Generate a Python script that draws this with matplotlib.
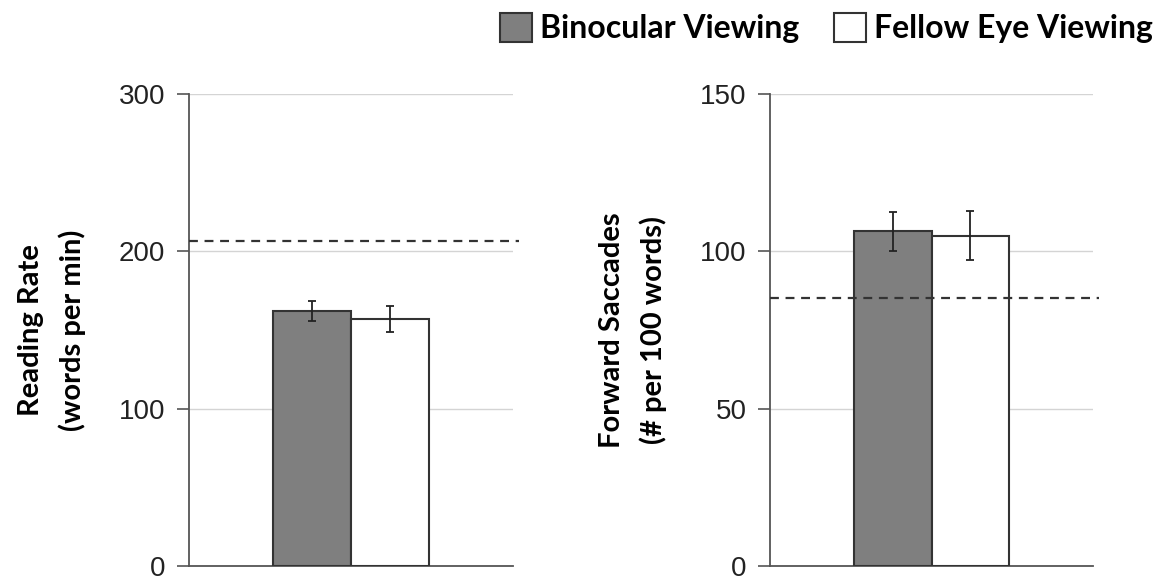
import matplotlib.pyplot as plt

plt.rcParams['font.family'] = ['Liberation Sans', 'DejaVu Sans']

# 数据
conditions = ['Binocular Viewing', 'Fellow Eye Viewing']
reading_rate = [162, 157]
reading_rate_err = [6.5, 8]
reading_rate_norm = 206.6
saccades = [106.4, 105.0]
saccades_err = [6.2, 7.8]
saccades_norm = 85.1

bar_colors = ['#7f7f7f', 'white']
edge = '#333333'
label_font = dict(family=['Lato', 'DejaVu Sans'], weight='bold', size=21)

fig = plt.figure(figsize=(11.68, 5.8), dpi=100)
ax1 = fig.add_axes([189 / 1168, 14 / 580, 324 / 1168, 472 / 580])
ax2 = fig.add_axes([770 / 1168, 14 / 580, 323 / 1168, 472 / 580])

panels = [
    (ax1, reading_rate, reading_rate_err, reading_rate_norm, 300, 100,
     'Reading Rate\n(words per min)'),
    (ax2, saccades, saccades_err, saccades_norm, 150, 50,
     'Forward Saccades\n(# per 100 words)'),
]

xpos = [-0.12, 0.12]
for ax, vals, errs, norm, ymax, step, ylabel in panels:
    for x, v, e, c, name in zip(xpos, vals, errs, bar_colors, conditions):
        ax.bar(x, v, width=0.24, color=c, edgecolor=edge, linewidth=1.5,
               label=name, zorder=3)
        ax.errorbar(x, v, yerr=e, fmt='none', ecolor='#222222',
                    elinewidth=1.3, capsize=3, capthick=1.3, zorder=4)
    # 正常参考值虚线
    ax.axhline(norm, xmin=0, xmax=1.018, color='#333333', linestyle=(0, (4, 3)),
               linewidth=1.6, clip_on=False, zorder=5)
    ax.set_xlim(-0.5, 0.5)
    ax.set_ylim(0, ymax)
    ax.set_yticks(range(0, ymax + 1, step))
    ax.yaxis.grid(True, color='#d4d4d4', linewidth=1)
    ax.set_axisbelow(True)
    ax.set_xticks([])
    for s in ['top', 'right']:
        ax.spines[s].set_visible(False)
    for s in ['left', 'bottom']:
        ax.spines[s].set_color('#555555')
        ax.spines[s].set_linewidth(1.3)
    ax.tick_params(axis='y', length=9, width=1.2, color='#555555',
                   labelsize=20, pad=8, labelcolor='#222222')
    ax.set_ylabel(ylabel, fontdict=label_font, labelpad=24, linespacing=1.6)

# 图例（放在右上角）
handles, labels = ax1.get_legend_handles_labels()
fig.legend(handles, labels, loc='upper right', bbox_to_anchor=(1153 / 1168, 1 - 13 / 580),
           ncol=2, frameon=False, borderpad=0, borderaxespad=0,
           handlelength=1.0, handleheight=1.0,
           handletextpad=0.25, columnspacing=1.1,
           prop=dict(family=['Lato', 'DejaVu Sans'], weight='bold', size=23))

fig.savefig('out.png', dpi=100)
